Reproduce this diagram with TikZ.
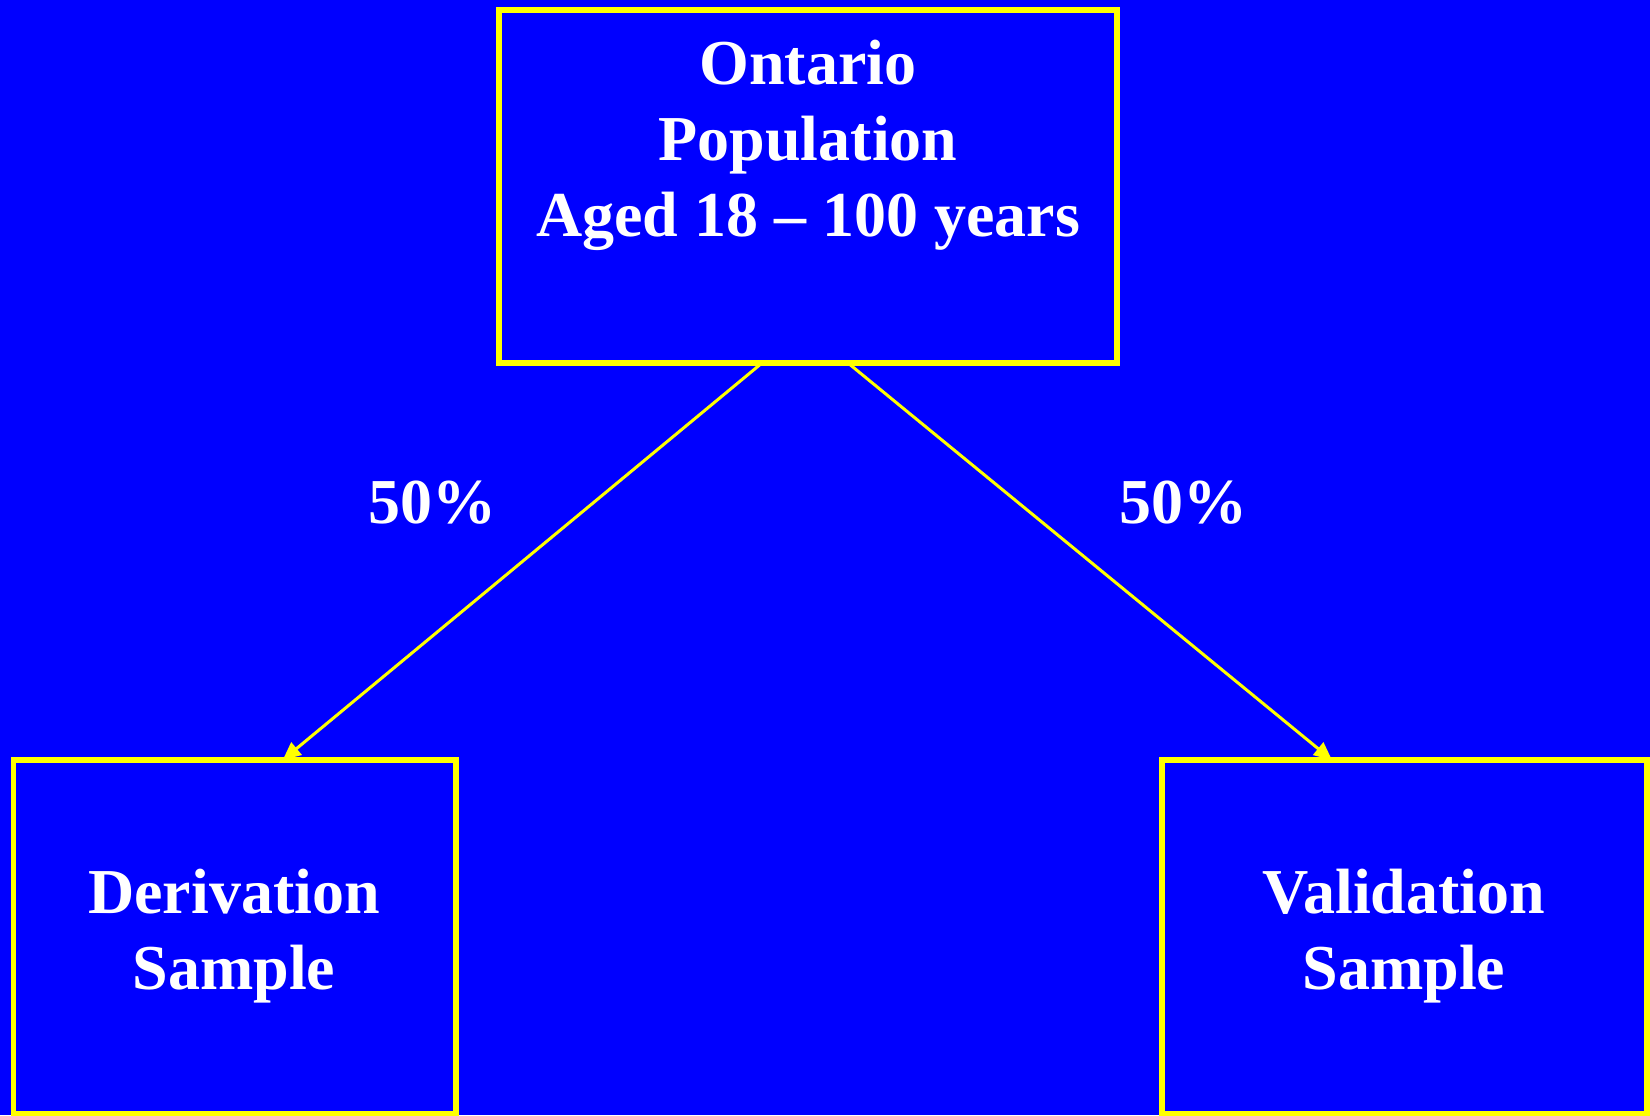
\documentclass[tikz,border=0pt]{standalone}
\usepackage{fontspec}
\setmainfont{Liberation Serif}
\usetikzlibrary{arrows.meta}
\usetikzlibrary{calc}
\definecolor{slideblue}{RGB}{0,0,255}
\definecolor{lineyellow}{RGB}{255,255,0}

\begin{document}
\begin{tikzpicture}[x=0.5pt, y=-0.5pt,
        box/.style={rectangle, draw=lineyellow, line width=2.75pt, inner sep=0pt, outer sep=0pt},
        txt/.style={text=white, font=\fontsize{32}{38}\selectfont\bfseries, align=center, inner sep=0pt},
        split/.style={draw=lineyellow, line width=1.5pt, -{Triangle[length=9pt, width=8pt]}}]
            \fill[slideblue] (0,0) rectangle (1650,1115);
            \useasboundingbox (0,0) rectangle (1650,1115);
            % boxes
            \node[box, minimum width=309pt, minimum height=176.5pt] (pop) at (808,186.5) {};
            \node[box, minimum width=221.25pt, minimum height=177pt] (deriv) at (234.75,937) {};
            \node[box, minimum width=242.5pt, minimum height=177pt] (valid) at (1404.5,937) {};
            % texts (base = last line)
            \node[txt, anchor=base] (poptext) at (808,236) {Ontario\\Population\\Aged 18 – 100 years};
            \node[txt, anchor=base] (derivtext) at (234,989) {Derivation\\Sample};
            \node[txt, anchor=base] (validtext) at (1404,989) {Validation\\Sample};
            % split
            \draw[split] ([xshift=-23pt]pop.south) -- ([xshift=24pt]deriv.north);
            \draw[split] ([xshift=20pt]pop.south) -- ([xshift=-36.25pt]valid.north);
            \node[txt, anchor=base] (lefthalf) at (432,523) {50\%};
            \node[txt, anchor=base] (righthalf) at (1183,523) {50\%};
        \end{tikzpicture}
\end{document}
